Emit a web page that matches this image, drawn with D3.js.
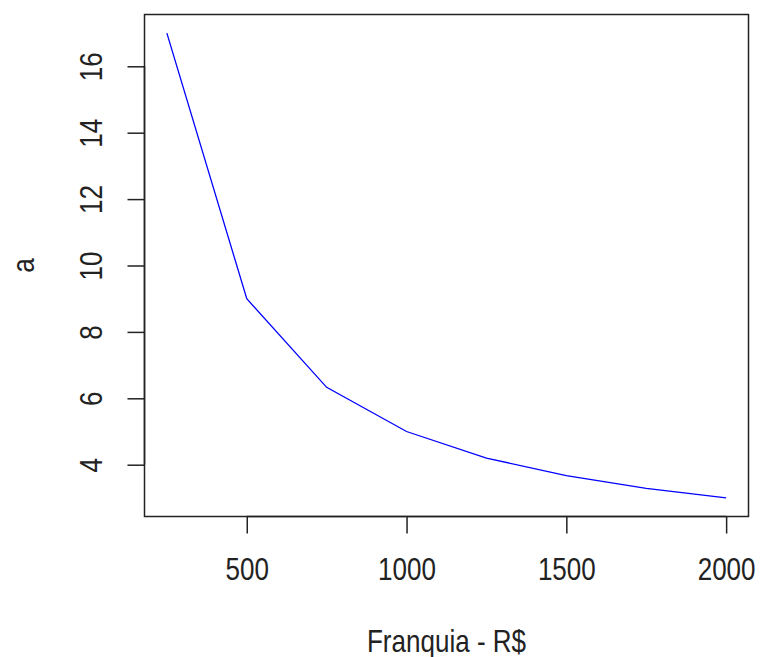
<!DOCTYPE html>
<html>
<head>
<meta charset="utf-8">
<script src="https://cdn.jsdelivr.net/npm/d3@7"></script>
<style>
  html, body { margin: 0; padding: 0; background: #fff; }
  svg { display: block; }
  text { font-family: "Liberation Sans", Arial, sans-serif; fill: #222; }
</style>
</head>
<body>
<script>
// Deductible amount (R$) and the resulting value of a
const franquia = [250, 500, 750, 1000, 1250, 1500, 1750, 2000];
const aValues = [17, 9, 6.33, 5, 4.2, 3.67, 3.29, 3];
const xTicks = [500, 1000, 1500, 2000];
const yTicks = [4, 6, 8, 10, 12, 14, 16];
const xTitle = "Franquia - R$";
const yTitle = "a";

const W = 760, H = 657;
const plot = { left: 144.5, right: 748.5, top: 14.5, bottom: 516.5 };
const tickLen = 17;
const fontSize = 31, squeeze = 0.84;

const svg = d3.select("body").append("svg").attr("width", W).attr("height", H);

// R-style 4% padding around the data range
const xExt = d3.extent(franquia), yExt = d3.extent(aValues);
const xPad = (xExt[1] - xExt[0]) * 0.04, yPad = (yExt[1] - yExt[0]) * 0.04;
const x = d3.scaleLinear().domain([xExt[0] - xPad, xExt[1] + xPad]).range([plot.left, plot.right]);
const y = d3.scaleLinear().domain([yExt[0] - yPad, yExt[1] + yPad]).range([plot.bottom, plot.top]);

// bottom axis
const xAxis = d3.axisBottom(x).tickValues(xTicks).tickSize(tickLen).tickSizeOuter(0).tickPadding(0).tickFormat(d3.format("d"));
const gx = svg.append("g").attr("transform", `translate(0,${plot.bottom})`).call(xAxis);
gx.select(".domain").attr("d", `M${x(xTicks[0])},0H${x(xTicks[xTicks.length - 1])}`);
gx.selectAll("line, path").attr("stroke", "#222").attr("stroke-width", 1.5);
gx.selectAll("text")
  .attr("y", null).attr("dy", null)
  .attr("font-size", fontSize)
  .attr("text-anchor", "middle")
  .attr("dominant-baseline", "central")
  .attr("transform", d => `translate(0,${569 - plot.bottom}) scale(${squeeze},1)`);

// left axis
const yAxis = d3.axisLeft(y).tickValues(yTicks).tickSize(tickLen).tickSizeOuter(0).tickPadding(0);
const gy = svg.append("g").attr("transform", `translate(${plot.left},0)`).call(yAxis);
gy.select(".domain").attr("d", `M0,${y(yTicks[0])}V${y(yTicks[yTicks.length - 1])}`);
gy.selectAll("line, path").attr("stroke", "#222").attr("stroke-width", 1.5);
gy.selectAll("text")
  .attr("x", null).attr("dy", null)
  .attr("font-size", fontSize)
  .attr("text-anchor", "middle")
  .attr("dominant-baseline", "central")
  .attr("transform", `translate(${91.5 - plot.left},0) rotate(-90) scale(${squeeze},1)`);

// plot frame
svg.append("rect")
  .attr("x", plot.left).attr("y", plot.top)
  .attr("width", plot.right - plot.left).attr("height", plot.bottom - plot.top)
  .attr("fill", "none").attr("stroke", "#222").attr("stroke-width", 1.5);

// curve
svg.append("path")
  .datum(franquia.map((f, i) => [f, aValues[i]]))
  .attr("fill", "none").attr("stroke", "#0000ff").attr("stroke-width", 1.3)
  .attr("d", d3.line().x(d => x(d[0])).y(d => y(d[1])));

// axis titles
svg.append("text")
  .attr("font-size", fontSize)
  .attr("text-anchor", "middle").attr("dominant-baseline", "central")
  .attr("transform", `translate(${(plot.left + plot.right) / 2},641) scale(${squeeze},1)`)
  .text(xTitle);
svg.append("text")
  .attr("font-size", fontSize)
  .attr("text-anchor", "middle").attr("dominant-baseline", "central")
  .attr("transform", `translate(23,${(plot.top + plot.bottom) / 2}) rotate(-90) scale(${squeeze},1)`)
  .text(yTitle);
</script>
</body>
</html>
